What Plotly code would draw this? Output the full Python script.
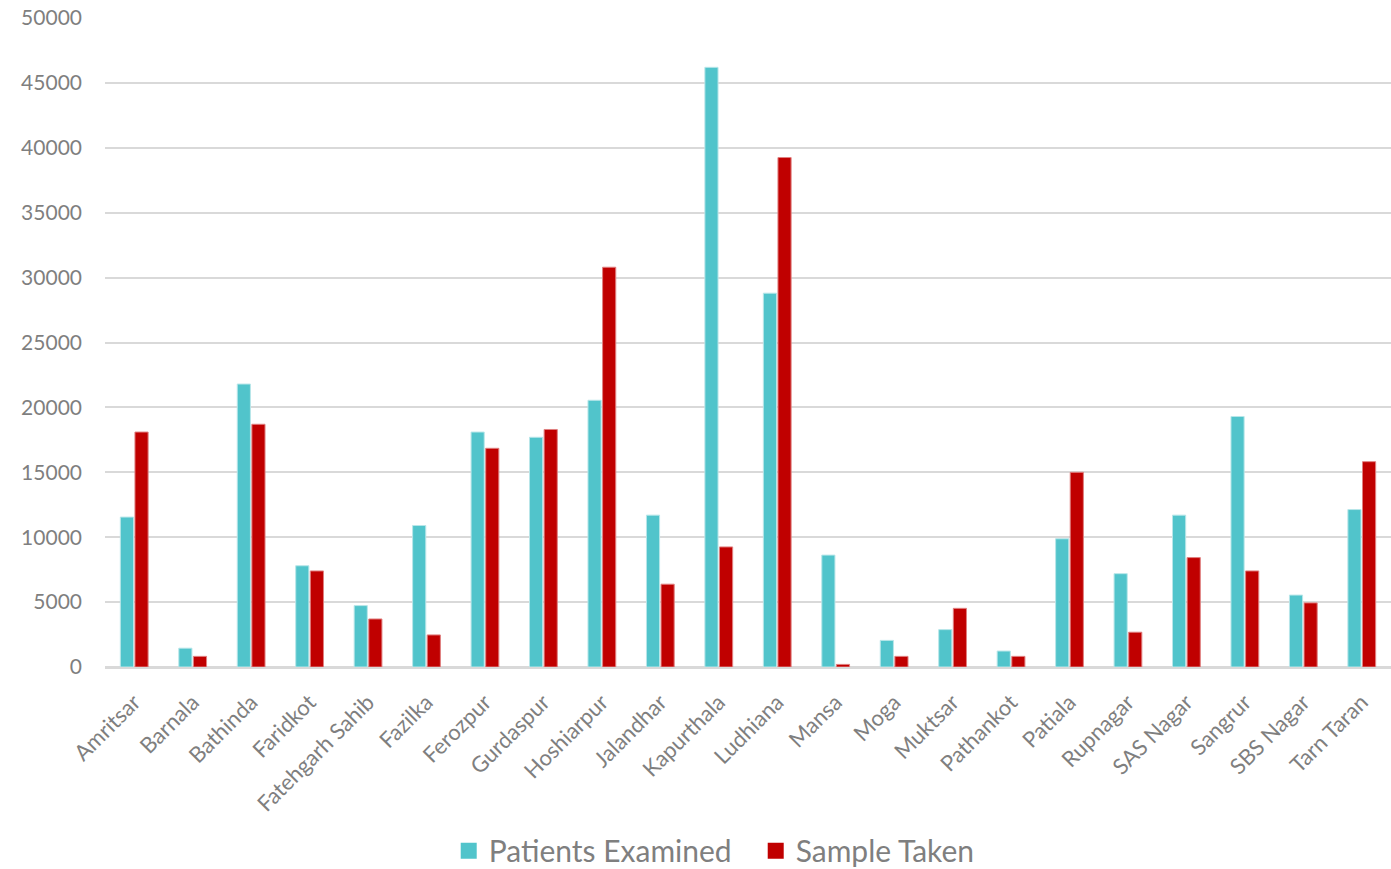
import plotly.graph_objects as go

districts = ["Amritsar", "Barnala", "Bathinda", "Faridkot", "Fatehgarh Sahib", "Fazilka",
             "Ferozpur", "Gurdaspur", "Hoshiarpur", "Jalandhar", "Kapurthala", "Ludhiana",
             "Mansa", "Moga", "Muktsar", "Pathankot", "Patiala", "Rupnagar", "SAS Nagar",
             "Sangrur", "SBS Nagar", "Tarn Taran"]
patients_examined = [11550, 1450, 21800, 7800, 4730, 10900, 18100, 17700, 20550, 11700, 46200,
                     28800, 8620, 2050, 2880, 1230, 9880, 7190, 11700, 19300, 5540, 12130]
sample_taken = [18100, 820, 18700, 7400, 3700, 2470, 16850, 18300, 30800, 6380, 9250,
                39250, 200, 820, 4520, 820, 15000, 2680, 8430, 7400, 4940, 15820]
y_ticks = [0, 5000, 10000, 15000, 20000, 25000, 30000, 35000, 40000, 45000, 50000]
series_names = ["Patients Examined", "Sample Taken"]

TEAL = "#51C4CB"
RED = "#C00000"
GRAY = "#7F7F7F"
FONT = "Lato"

fig = go.Figure()
fig.add_trace(go.Bar(x=districts, y=patients_examined, name=series_names[0], showlegend=False,
                     marker=dict(color=TEAL, line=dict(color="#B8E6E9", width=1))))
fig.add_trace(go.Bar(x=districts, y=sample_taken, name=series_names[1], showlegend=False,
                     marker=dict(color=RED, line=dict(color="#E08080", width=1))))
# legend entries with larger square swatches
for nm, col in zip(series_names, [TEAL, RED]):
    fig.add_trace(go.Scatter(x=[None], y=[None], mode="markers", name=nm,
                             marker=dict(symbol="square", size=17, color=col)))

fig.update_layout(
    width=1391, height=869,
    paper_bgcolor="white", plot_bgcolor="white",
    barmode="group", bargap=0.5, bargroupgap=0.1,
    margin=dict(l=105, r=0, t=18, b=202, autoexpand=False),
    font=dict(family=FONT, color=GRAY, size=20),
    legend=dict(orientation="h", x=0.506, xanchor="center", y=-0.283, yanchor="middle",
                font=dict(size=30, color=GRAY, family=FONT),
                traceorder="normal", itemwidth=30, entrywidth=262),
    showlegend=True,
)
fig.update_xaxes(tickangle=-45, tickfont=dict(size=22, color=GRAY, family=FONT),
                 showgrid=False, showline=True, linecolor="#D9D9D9", linewidth=1.5,
                 ticks="", ticklabelstandoff=12, automargin=False)
fig.update_yaxes(range=[0, 50000], tickvals=y_ticks, ticktext=[str(v) for v in y_ticks],
                 tickfont=dict(size=21, color=GRAY, family=FONT),
                 showgrid=True, gridcolor="#D9D9D9", gridwidth=1.5,
                 zeroline=True, zerolinecolor="#D9D9D9", zerolinewidth=1.5,
                 ticklabelstandoff=22, automargin=False)

fig.write_html("out.html", config={"displayModeBar": False},
               post_script="document.body.style.margin='0';document.body.style.overflow='hidden';")
